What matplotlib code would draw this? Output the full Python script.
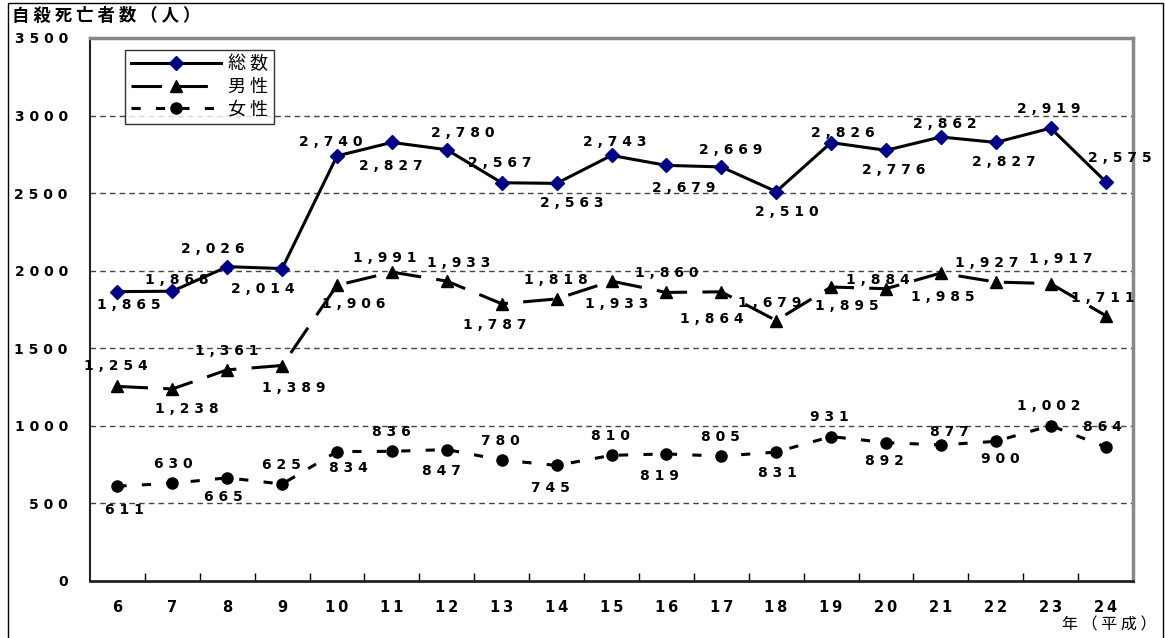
import numpy as np
import matplotlib.pyplot as plt
from matplotlib.lines import Line2D
from matplotlib.patches import Rectangle

plt.rcParams['font.family'] = ['DejaVu Sans', 'Noto Sans CJK JP']

years = ['6', '7', '8', '9', '10', '11', '12', '13', '14', '15', '16', '17',
         '18', '19', '20', '21', '22', '23', '24']
total = [1865, 1868, 2026, 2014, 2740, 2827, 2780, 2567, 2563, 2743, 2679,
         2669, 2510, 2826, 2776, 2862, 2827, 2919, 2575]
male = [1254, 1238, 1361, 1389, 1906, 1991, 1933, 1787, 1818, 1933, 1860,
        1864, 1679, 1895, 1884, 1985, 1927, 1917, 1711]
female = [611, 630, 665, 625, 834, 836, 847, 780, 745, 810, 819, 805, 831,
          931, 892, 877, 900, 1002, 864]

# data label offsets from each point, in pixels (dx, dy up)
total_off = [(11, -13), (4, 11), (-14, 18), (-19, -20), (-6, 14), (-1, -24),
             (16, 17), (-2, 20), (15, -20), (3, 13), (17, -23), (9, 17),
             (11, -20), (12, 10), (8, -20), (4, 13), (8, -20), (-2, 19), (14, 24)]
male_off = [(-2, 20), (14, -20), (0, 19), (12, -22), (17, -19), (-7, 14),
            (12, 18), (-7, -21), (-1, 19), (5, -23), (0, 19), (-9, -27),
            (-6, 18), (16, -19), (-8, 9), (2, -24), (-9, 19), (10, 25), (-3, 18)]
female_off = [(7, -24), (1, 19), (-4, -19), (-1, 19), (11, -16), (-1, 19),
              (-5, -21), (-1, 19), (-6, -23), (-1, 19), (-7, -22), (-1, 19),
              (1, -21), (-2, 20), (-2, -18), (9, 13), (5, -18), (-2, 20), (-3, 20)]


def spaced(v):
    return ' '.join(f'{v:,}')


fig = plt.figure(figsize=(11.65, 6.38), dpi=100)
ax = fig.add_axes([90 / 1165, 1 - 581 / 638, (1133 - 90) / 1165, (581 - 38) / 638])

x = np.arange(len(years))
ax.plot(x, total, color='black', lw=2.2, marker='D', ms=7,
        mfc='#000080', mec='#000080', zorder=4)
ax.plot(x, male, color='black', lw=2.2, dashes=(10, 5), marker='^', ms=9,
        mfc='black', mec='black', zorder=4)
ax.plot(x, female, color='black', lw=2.2, dashes=(3, 5), marker='o', ms=8,
        mfc='black', mec='black', zorder=4)

for series, offs in ((total, total_off), (male, male_off), (female, female_off)):
    for i, (v, (dx, dy)) in enumerate(zip(series, offs)):
        ax.annotate(spaced(v), (i, v), xytext=(dx, dy), textcoords='offset pixels',
                    ha='center', va='center', fontsize=10, fontweight='bold', zorder=5)

ax.set_xlim(-0.5, len(years) - 0.5)
ax.set_ylim(0, 3500)
ax.set_yticks(np.arange(0, 3501, 500))
ax.set_yticklabels([' '.join(str(t)) for t in range(0, 3501, 500)],
                   fontsize=10, fontweight='bold')
ax.tick_params(axis='y', length=0, pad=16)
ax.set_xticks(x)
ax.set_xticklabels(['\u2009'.join(y) for y in years], fontsize=10.5, fontweight='bold')
ax.tick_params(axis='x', which='major', length=0, pad=14)
ax.set_xticks(np.arange(0.5, len(years) - 1, 1), minor=True)
ax.tick_params(axis='x', which='minor', direction='in', length=6, width=1, color='black')

for yv in range(500, 3001, 500):
    ax.axhline(yv, color='#444444', lw=1, ls=(0, (4, 3)), zorder=1)

ax.spines['left'].set_color('#222222')
ax.spines['left'].set_linewidth(1.5)
ax.spines['bottom'].set_color('#222222')
ax.spines['bottom'].set_linewidth(2)
ax.spines['top'].set_color('#888888')
ax.spines['top'].set_linewidth(2.5)
ax.spines['right'].set_color('#888888')
ax.spines['right'].set_linewidth(2.5)

jp = ['Noto Sans CJK JP', 'DejaVu Sans']
fig.text(12 / 1165, 1 - 16 / 638, '自 殺 死 亡 者 数 （ 人 ）', fontsize=12.5,
         fontweight='bold', family=jp, va='center', ha='left')
fig.text(1156 / 1165, 1 - 625 / 638, '年 （ 平 成 ）', fontsize=11.5,
         family=jp, va='center', ha='right')

handles = [
    Line2D([], [], color='black', lw=2.2, marker='D', ms=7, mfc='#000080', mec='#000080'),
    Line2D([], [], color='black', lw=2.2, dashes=(10, 5), marker='^', ms=9),
    Line2D([], [], color='black', lw=2.2, dashes=(3, 5), marker='o', ms=8),
]
leg = ax.legend(handles, ['総 数', '男 性', '女 性'], loc='upper left',
                bbox_to_anchor=(0.034, 0.978), prop={'family': jp, 'size': 13},
                frameon=True, fancybox=False, edgecolor='black', handlelength=5.0,
                handletextpad=0.4, borderpad=0.3, labelspacing=0.25,
                borderaxespad=0)
leg.get_frame().set_linewidth(1)

# outer frame around the chart
fig.patches.append(Rectangle((8 / 1165, -0.01), (1163 - 8) / 1165, 1.01 - 3 / 638,
                             transform=fig.transFigure, fill=False,
                             edgecolor='black', lw=1))

fig.savefig('out.png', dpi=100)
